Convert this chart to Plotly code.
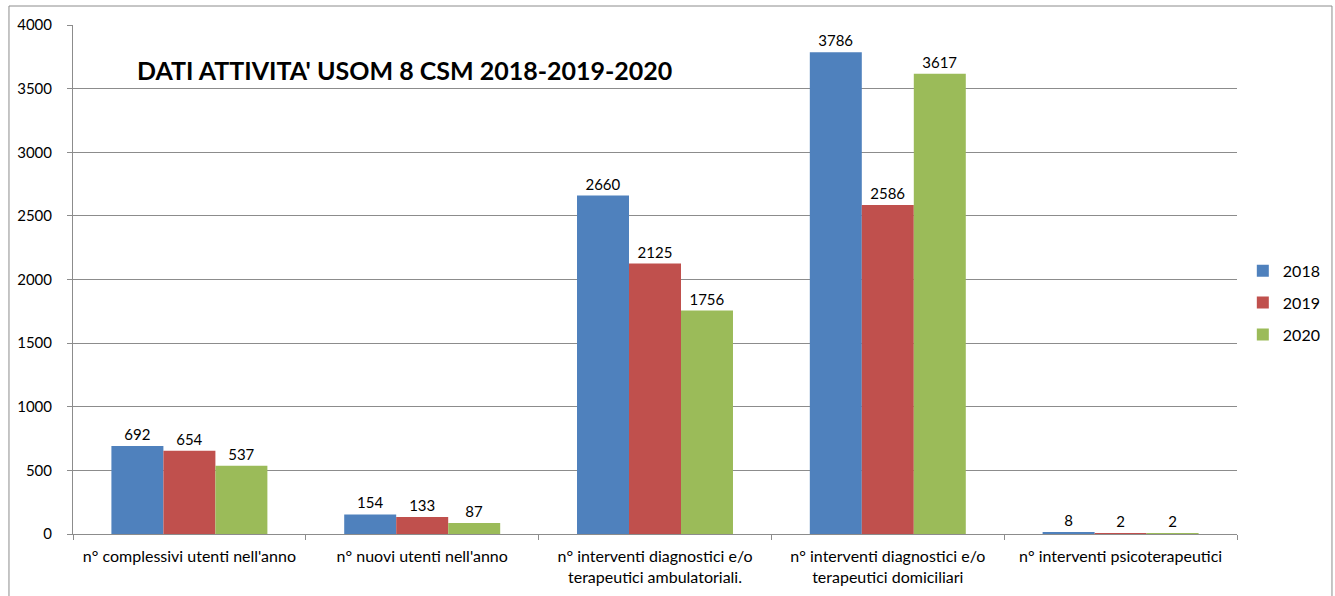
import plotly.graph_objects as go

categories = [
    "n° complessivi utenti nell'anno",
    "n° nuovi utenti nell'anno",
    "n° interventi diagnostici e/o<br>terapeutici ambulatoriali.",
    "n° interventi diagnostici e/o<br>terapeutici domiciliari",
    "n° interventi psicoterapeutici",
]
series_names = ["2018", "2019", "2020"]
values_2018 = [692, 154, 2660, 3786, 8]
values_2019 = [654, 133, 2125, 2586, 2]
values_2020 = [537, 87, 1756, 3617, 2]
colors = ["#4f81bd", "#c0504d", "#9bbb59"]
title_text = "DATI ATTIVITA' USOM 8 CSM 2018-2019-2020"

FONT = "Lato, Open Sans, sans-serif"

fig = go.Figure()
for name, vals, col in zip(series_names, [values_2018, values_2019, values_2020], colors):
    fig.add_trace(go.Bar(
        name=name, x=categories, y=vals, legendgroup=name,
        marker=dict(color=col, line=dict(width=0)),
        text=[str(v) for v in vals], textposition="outside",
        textfont=dict(size=15, color="#000000", family=FONT),
        cliponaxis=False,
    ))

fig.update_layout(
    width=1335, height=596,
    margin=dict(l=73, r=98, t=25, b=62, autoexpand=False),
    paper_bgcolor="white", plot_bgcolor="white",
    barmode="group", bargap=0.33, bargroupgap=0,
    font=dict(family=FONT, size=15, color="#000000"),
    showlegend=True,
    legend=dict(x=1.005, y=0.454, xanchor="left", yanchor="middle",
                font=dict(size=16, family=FONT), tracegroupgap=8,
                itemwidth=30, bgcolor="rgba(0,0,0,0)"),
    yaxis=dict(range=[0, 4000], dtick=500, showgrid=True, gridcolor="#8c8c8c", gridwidth=1,
               showline=True, linecolor="#8c8c8c", linewidth=1,
               ticks="outside", ticklen=5, tickcolor="#8c8c8c", ticklabelstandoff=12,
               tickfont=dict(size=15, family=FONT), zeroline=False, automargin=False),
    xaxis=dict(showline=True, linecolor="#8c8c8c", linewidth=1,
               ticks="outside", ticklen=5, tickcolor="#8c8c8c", tickson="boundaries",
               ticklabelstandoff=8, automargin=False,
               tickfont=dict(size=16, family=FONT)),
    annotations=[dict(text="<b>" + title_text + "</b>", xref="paper", yref="paper",
                      x=0.053, y=0.912, xanchor="left", yanchor="middle", showarrow=False,
                      font=dict(size=25, family=FONT, color="#000000"))],
    shapes=[dict(type="rect", xref="paper", yref="paper",
                 x0=-0.055, x1=1.0816, y0=-0.3, y1=1.0373,
                 line=dict(color="#8c8c8c", width=1), layer="below")],
)

fig.write_html("out.html", config={"displayModeBar": False},
               post_script="document.body.style.margin='0';document.body.style.overflow='hidden';")
